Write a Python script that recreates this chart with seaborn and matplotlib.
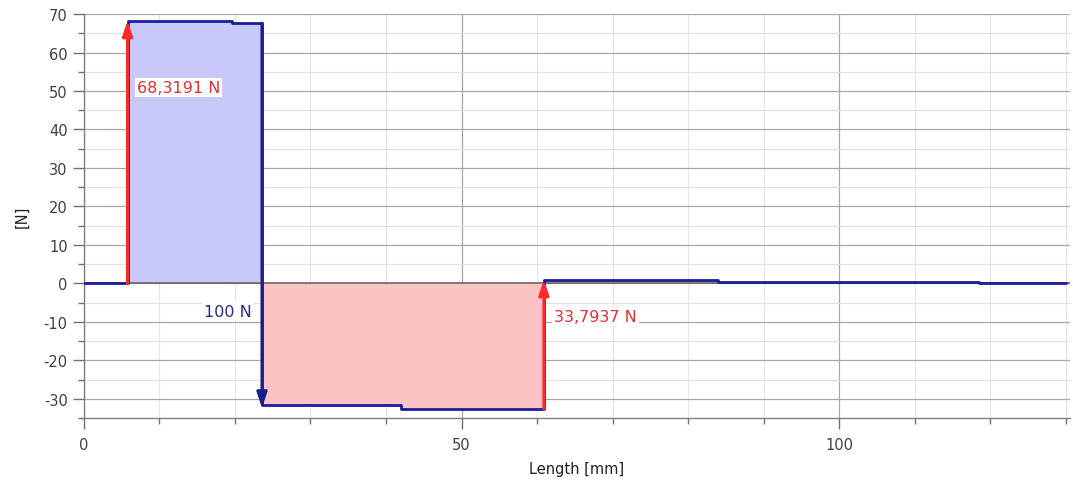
import numpy as np
import pandas as pd
import matplotlib
matplotlib.use("Agg")
import matplotlib.pyplot as plt
import seaborn as sns
from matplotlib.ticker import MultipleLocator

# Shear force diagram data (step function, value holds from x to next x)
x_mm = [0.0, 5.8, 19.6, 23.6, 42.0, 60.9, 84.0, 118.5, 130.0]
shear_N = [0.0, 68.3191, 67.6, -31.7, -32.6, 1.0, 0.4, 0.0, 0.0]

# point forces: position, start value, end value, label
force_x = [5.8, 23.6, 60.9]
force_from = [0.0, 67.6, -32.6]
force_to = [68.3191, -32.4, 1.0]
force_labels = ["68,3191 N", "100 N", "33,7937 N"]

df = pd.DataFrame({"Length [mm]": x_mm, "[N]": shear_N})

sns.set_style("white")
plt.rcParams["font.family"] = ["DejaVu Sans"]
plt.rcParams["axes.unicode_minus"] = False

fig = plt.figure(figsize=(10.73, 4.85), dpi=100)
ax = fig.add_axes([0.078, 0.136, 0.919, 0.833])

x = np.array(x_mm)
y = np.array(shear_N)

# fills
pos = (x >= 5.8) & (x <= 23.6)
ax.fill_between(x, y, 0, where=pos, step="post", color="#c8c8fa", lw=0, zorder=1)
neg = (x >= 23.6) & (x <= 60.9)
ax.fill_between(x, y, 0, where=neg, step="post", color="#fac4c4", lw=0, zorder=1)
small = (x >= 60.9) & (x <= 84.0)
ax.fill_between(x, y, 0, where=small, step="post", color="#d8dcf6", lw=0, zorder=1)

sns.lineplot(data=df, x="Length [mm]", y="[N]", drawstyle="steps-post",
             color="#1c1c9c", lw=2, ax=ax, zorder=3)

# force arrows
colors = ["#ff2a2a", "#1c1c8c", "#ff2a2a"]
for fx, f0, f1, c in zip(force_x, force_from, force_to, colors):
    ax.annotate("", xy=(fx, f1), xytext=(fx, f0),
                arrowprops=dict(arrowstyle="-|>,head_width=0.3,head_length=0.9",
                                color=c, lw=2.2, shrinkA=0, shrinkB=0), zorder=4)

lab_kw = dict(fontsize=11.5, va="center",
              bbox=dict(facecolor="white", edgecolor="none", pad=1.5), zorder=5)
ax.text(7.0, 51, force_labels[0], color="#e03030", **lab_kw)
ax.text(22.3, -7.2, force_labels[1], color="#2a2a8a", ha="right", **lab_kw)
ax.text(62.2, -8.6, force_labels[2], color="#e03030", **lab_kw)

ax.set_xlim(0, 130.5)
ax.set_ylim(-35, 70)
ax.xaxis.set_major_locator(MultipleLocator(50))
ax.xaxis.set_minor_locator(MultipleLocator(10))
ax.yaxis.set_major_locator(MultipleLocator(10))
ax.yaxis.set_minor_locator(MultipleLocator(5))

ax.grid(which="major", color="#a8a8a8", lw=0.9, zorder=0)
ax.grid(which="minor", color="#e0e0e0", lw=0.8, zorder=0)
ax.xaxis.grid(which="minor", color="#e6e6e6", lw=0.8)
ax.axhline(0, color="#6e6460", lw=1.2, zorder=2)
ax.set_axisbelow(True)

for s in ["top", "right"]:
    ax.spines[s].set_visible(False)
for s in ["left", "bottom"]:
    ax.spines[s].set_color("#808080")
    ax.spines[s].set_linewidth(1.0)

ax.tick_params(which="major", direction="out", length=8, width=1, color="#707070",
               labelsize=10.5, labelcolor="#404040", left=True, bottom=True)
ax.tick_params(which="minor", direction="out", length=4, width=1, color="#707070",
               left=True, bottom=True)
ax.tick_params(axis="x", pad=6)

ax.set_xlabel("Length [mm]", fontsize=10.5, color="#202020", labelpad=6)
ax.set_ylabel("[N]", fontsize=10.5, color="#202020", labelpad=10)

fig.savefig("out.png", dpi=100)
